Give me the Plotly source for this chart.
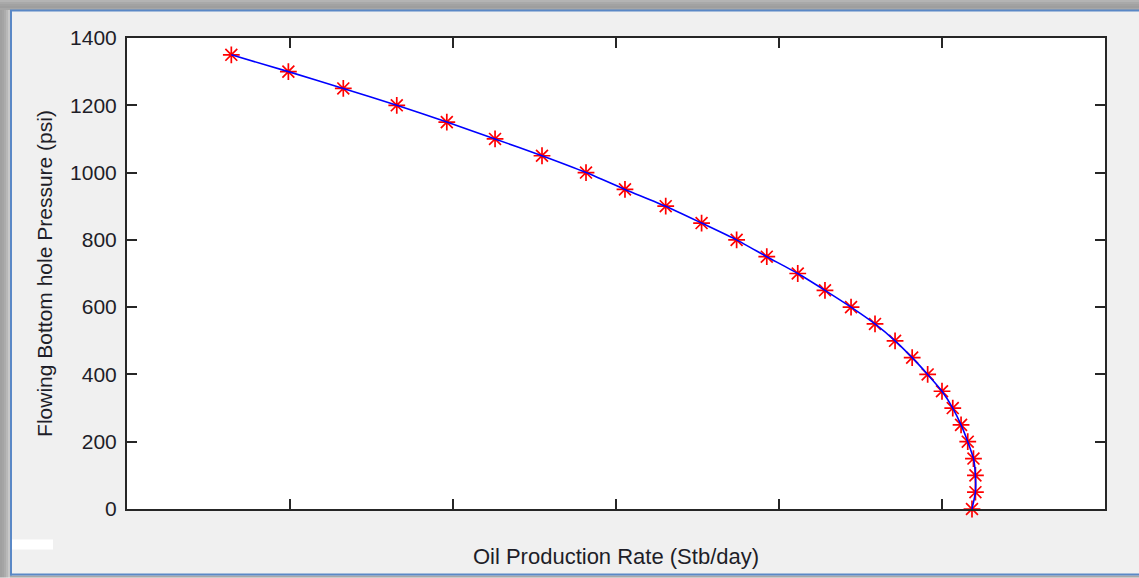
import plotly.graph_objects as go

# Flowing bottom-hole pressure (psi)
pressure = [1350, 1300, 1250, 1200, 1150, 1100, 1050, 1000, 950, 900, 850, 800, 750, 700,
            650, 600, 550, 500, 450, 400, 350, 300, 250, 200, 150, 100, 50, 0]
# Oil production rate (Stb/day)
rate = [640, 990, 1327, 1655, 1962, 2258, 2546, 2816, 3055, 3305, 3525, 3740, 3925, 4115,
        4282, 4442, 4589, 4712, 4817, 4912, 5000, 5066, 5117, 5158, 5193, 5205, 5205, 5184]

x_ticks = [1000, 2000, 3000, 4000, 5000]
y_ticks = [0, 200, 400, 600, 800, 1000, 1200, 1400]

W, H = 1139, 578
L, R, T, B = 127, 1105, 38, 509.5


def fx(px):
    return (px - L) / (R - L)


def fy(py):
    return (B - py) / (B - T)


fig = go.Figure()
fig.add_trace(go.Scatter(
    x=rate, y=pressure, mode="markers",
    marker=dict(symbol="asterisk-open", size=14, color="#ff0000",
                line=dict(color="#ff0000", width=1.7)),
    cliponaxis=False, showlegend=False, hoverinfo="skip"))
fig.add_trace(go.Scatter(
    x=rate, y=pressure, mode="lines",
    line=dict(color="#0000ff", width=1.6, shape="spline", smoothing=0.6),
    cliponaxis=False, showlegend=False))

shapes = []
# window shadow / frame
for i, c in enumerate(["#b4b4b4", "#a9a9a9", "#a2a2a2", "#9e9e9e", "#a6a6a6"]):
    shapes.append(dict(type="rect", xref="paper", yref="paper",
                       x0=fx(0), x1=fx(W), y0=fy(2 * i), y1=fy(2 * i + 2),
                       fillcolor=c, line=dict(width=0), layer="above"))
for i, c in enumerate(["#a0a0a0", "#a4a4a4", "#acacac", "#b8b8b8", "#c8c8c8"]):
    shapes.append(dict(type="rect", xref="paper", yref="paper",
                       x0=fx(2 * i), x1=fx(2 * i + 2), y0=fy(10), y1=fy(H),
                       fillcolor=c, line=dict(width=0), layer="above"))
shapes.append(dict(type="rect", xref="paper", yref="paper",
                   x0=fx(10), x1=fx(W), y0=fy(576), y1=fy(H),
                   fillcolor="#a8a8a8", line=dict(width=0), layer="above"))
# blue border
shapes.append(dict(type="line", xref="paper", yref="paper",
                   x0=fx(10), x1=fx(W), y0=fy(10.5), y1=fy(10.5),
                   line=dict(color="#5a88c6", width=2), layer="above"))
shapes.append(dict(type="line", xref="paper", yref="paper",
                   x0=fx(11), x1=fx(11), y0=fy(10), y1=fy(576),
                   line=dict(color="#5a88c6", width=2), layer="above"))
shapes.append(dict(type="line", xref="paper", yref="paper",
                   x0=fx(10), x1=fx(W), y0=fy(575), y1=fy(575),
                   line=dict(color="#5a88c6", width=2), layer="above"))
# small white patch
shapes.append(dict(type="rect", xref="paper", yref="paper",
                   x0=fx(12), x1=fx(53), y0=fy(540), y1=fy(550),
                   fillcolor="#ffffff", line=dict(width=0), layer="above"))

font_family = "Liberation Sans, Arial, sans-serif"
fig.update_layout(
    width=W, height=H, autosize=False,
    margin=dict(l=L, r=W - R, t=T, b=H - B, pad=0),
    paper_bgcolor="#f0f0f0", plot_bgcolor="#ffffff",
    font=dict(family=font_family, size=21, color="#1e1e28"),
    showlegend=False,
    shapes=shapes,
    xaxis=dict(range=[0, 6000], tickvals=x_ticks, showticklabels=False,
               ticks="inside", ticklen=10, tickwidth=1.5, tickcolor="#262626",
               showgrid=False, zeroline=False, showline=True, linewidth=2,
               linecolor="#262626", mirror="ticks",
               title=dict(text="Oil Production Rate (Stb/day)", standoff=39,
                          font=dict(size=22))),
    yaxis=dict(range=[0, 1400], tickvals=y_ticks, ticktext=[str(v) for v in y_ticks],
               ticks="inside", ticklen=10, tickwidth=1.5, tickcolor="#262626",
               showgrid=False, zeroline=False, showline=True, linewidth=2,
               linecolor="#262626", mirror="ticks", ticklabelstandoff=4,
               tickfont=dict(size=21),
               title=dict(text="Flowing Bottom hole Pressure (psi)", standoff=12,
                          font=dict(size=21))),
)

fig.write_html(
    "out.html",
    config={"displayModeBar": False},
    post_script="document.body.style.margin='0';"
                "document.body.style.background='#f0f0f0';",
)
